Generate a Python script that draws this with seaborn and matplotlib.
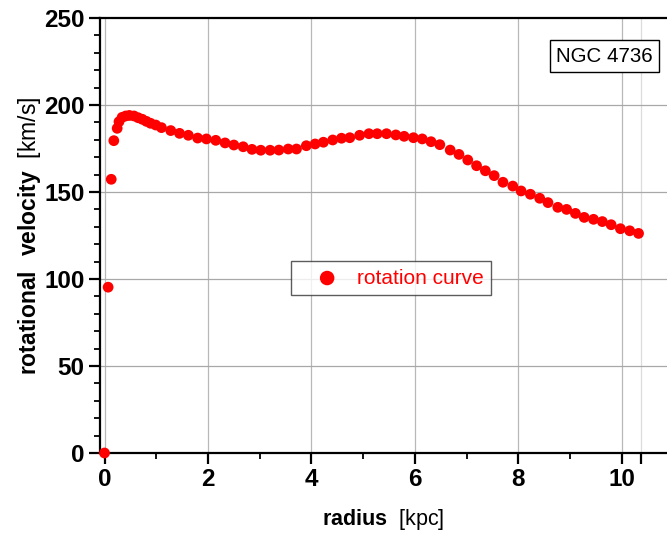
import matplotlib
matplotlib.use("Agg")
import matplotlib.pyplot as plt
import seaborn as sns
import pandas as pd
from matplotlib.ticker import MultipleLocator, FixedLocator

radius = [0, 0.07, 0.13, 0.18, 0.245, 0.28, 0.34, 0.41, 0.48, 0.57,
          0.65, 0.73, 0.81, 0.89, 0.99, 1.10, 1.28, 1.45, 1.62, 1.80,
          1.97, 2.15, 2.33, 2.50, 2.68, 2.85, 3.02, 3.20, 3.37, 3.55,
          3.71, 3.90, 4.07, 4.23, 4.41, 4.58, 4.74, 4.93, 5.11, 5.27,
          5.45, 5.63, 5.79, 5.97, 6.14, 6.31, 6.48, 6.68, 6.85, 7.02,
          7.19, 7.36, 7.53, 7.70, 7.89, 8.05, 8.23, 8.41, 8.57, 8.76,
          8.93, 9.10, 9.27, 9.45, 9.62, 9.79, 9.97, 10.15, 10.32]
velocity = [0, 95.3, 157.3, 179.5, 186.6, 190.4, 192.9, 193.7, 194, 193.7,
            192.7, 191.8, 190.6, 189.5, 188.5, 187, 185.3, 183.7, 182.6, 181,
            180.5, 179.7, 178.2, 177, 176, 174.5, 174, 174, 174.1, 174.7,
            174.7, 176.6, 177.6, 178.6, 179.9, 180.9, 181.2, 182.6, 183.5, 183.5,
            183.5, 182.8, 182, 181.2, 180.5, 178.9, 177.2, 174.1, 171.6, 168.4,
            165.1, 162.2, 159.4, 155.6, 153.4, 150.6, 148.7, 146.4, 143.9, 141.2,
            140, 137.7, 135.4, 134.3, 133, 131.2, 128.9, 127.7, 126.2]
series_label = "rotation curve"
galaxy_name = "NGC 4736"
x_ticks = [0, 2, 4, 6, 8, 10]
y_ticks = [0, 50, 100, 150, 200, 250]

sns.set_style("ticks")
plt.rcParams['font.family'] = ['Liberation Sans', 'DejaVu Sans']
plt.rcParams['mathtext.fontset'] = 'custom'
plt.rcParams['mathtext.rm'] = 'Liberation Sans'
plt.rcParams['mathtext.bf'] = 'Liberation Sans:bold'
plt.rcParams['text.color'] = 'black'
plt.rcParams['axes.labelcolor'] = 'black'
plt.rcParams['xtick.color'] = 'black'
plt.rcParams['ytick.color'] = 'black'

df = pd.DataFrame({"radius": radius, "velocity": velocity})

fig = plt.figure(figsize=(6.67, 5.35), dpi=100)
ax = fig.add_axes([100/667, (535-453)/535, 567/667, 435/535])

for x in x_ticks:
    ax.axvline(x, color="#b8b8b8", lw=0.9, zorder=0)
ax.axvline(10.37, color="#dcdcdc", lw=0.9, zorder=0)
for y in y_ticks[1:-1]:
    ax.axhline(y, color="#a8a8a8", lw=0.9, zorder=0)

sns.scatterplot(data=df, x="radius", y="velocity", ax=ax, color="#ff0000",
                s=60, edgecolor="none", label=series_label, zorder=3, clip_on=False)

ax.set_xlim(-0.087, 10.87)
ax.set_ylim(0, 250)
ax.xaxis.set_major_locator(FixedLocator(x_ticks + [10.37]))
ax.set_xticklabels([str(t) for t in x_ticks] + [""])
ax.xaxis.set_minor_locator(FixedLocator([1, 3, 5, 7, 9]))
ax.yaxis.set_major_locator(FixedLocator(y_ticks))
ax.yaxis.set_minor_locator(MultipleLocator(10))

for side in ["left", "bottom", "top"]:
    ax.spines[side].set_linewidth(1.6)
    ax.spines[side].set_color("black")
ax.spines["right"].set_visible(False)

ax.tick_params(which="major", direction="out", length=8, width=1.6, labelsize=17.5, pad=3,
               colors="black")
ax.tick_params(which="minor", direction="out", length=4, width=1.3, colors="black")
ax.tick_params(axis="y", which="both", right=False)
ax.tick_params(axis="x", which="both", top=False)
for lab in ax.get_xticklabels() + ax.get_yticklabels():
    lab.set_fontweight("bold")

ax.set_xlabel(r"$\mathbf{radius}$" + "  [kpc]", fontsize=15.5, labelpad=11, color="black")
ax.set_ylabel(r"$\mathbf{rotational\ \ velocity}$" + "  [km/s]", fontsize=16.5, labelpad=1,
              color="black")

leg = ax.legend(loc="upper left", bbox_to_anchor=((291-100)/567, (453-261)/435),
                frameon=True, fancybox=False, fontsize=15, handletextpad=0.05,
                borderpad=0.36, borderaxespad=0, markerscale=1.35, handlelength=2.75)
leg.get_frame().set_edgecolor("#333333")
leg.get_frame().set_linewidth(1.0)
for t in leg.get_texts():
    t.set_color("#ff0000")

ax.text((604.5-100)/567, (453-56)/435, galaxy_name, transform=ax.transAxes,
        ha="center", va="center", fontsize=14.8, color="black",
        bbox=dict(boxstyle="square,pad=0.3", facecolor="white", edgecolor="black", lw=1.0))

fig.savefig("out.png", dpi=100)
